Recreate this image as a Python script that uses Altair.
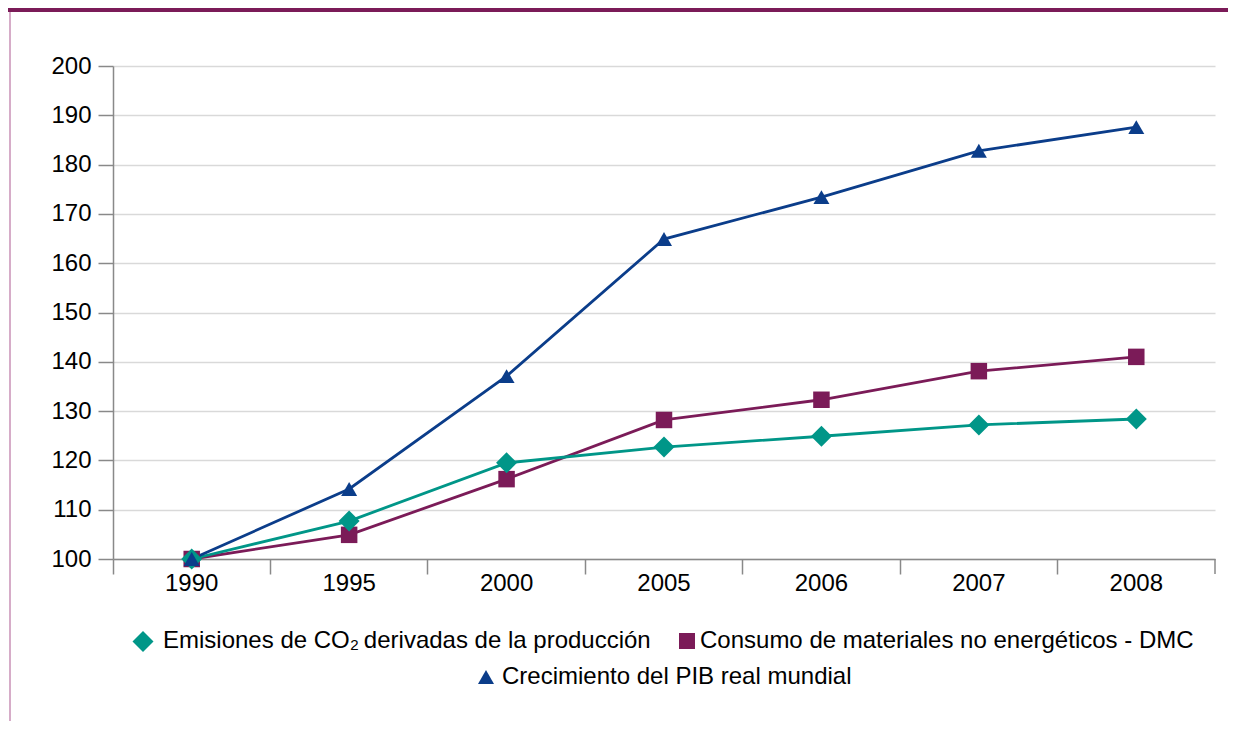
import altair as alt
import pandas as pd

years = ["1990", "1995", "2000", "2005", "2006", "2007", "2008"]
co2 = [100, 107.7, 119.5, 122.7, 124.9, 127.2, 128.4]
dmc = [100, 104.9, 116.2, 128.2, 132.3, 138.1, 141.0]
pib = [100, 114.2, 137.1, 164.9, 173.4, 182.8, 187.6]

names = [
    "Emisiones de CO₂\u2009derivadas de la producción",
    "Consumo de materiales no energéticos - DMC",
    "Crecimiento del PIB real mundial",
]
colors = ["#009688", "#7b1b58", "#0b3d8a"]
shapes = ["diamond", "square", "triangle-up"]
sizes = [441, 272, 256]

W, H = 1102, 493
FONT = "Liberation Sans"
FS = 24
GREY = "#898989"

rows = []
for name, vals in zip(names, [co2, dmc, pib]):
    for y, v in zip(years, vals):
        rows.append({"year": y, "value": v, "serie": name})
df = pd.DataFrame(rows)

xenc = alt.X(
    "year:N",
    sort=years,
    title=None,
    scale=alt.Scale(type="band", paddingInner=0, paddingOuter=0),
    axis=alt.Axis(
        bandPosition=0,
        labelAngle=0,
        labelFontSize=FS,
        labelFont=FONT,
        labelColor="#000000",
        labelPadding=-3,
        tickSize=15,
        tickColor=GREY,
        tickWidth=1.5,
        domainColor=GREY,
        domainWidth=1.5,
        grid=False,
    ),
)
yenc = alt.Y(
    "value:Q",
    title=None,
    scale=alt.Scale(domain=[100, 200], nice=False, zero=False),
    axis=alt.Axis(
        values=list(range(100, 201, 10)),
        labelFontSize=FS,
        labelFont=FONT,
        labelColor="#000000",
        labelPadding=7,
        tickSize=15,
        tickColor=GREY,
        tickWidth=1.5,
        domainColor=GREY,
        domainWidth=1.5,
        grid=True,
        gridColor="#d9d9d9",
        gridWidth=1.5,
    ),
)

layers = []
order = [1, 0, 2]
for i in order:
    sub = alt.Chart(df).transform_filter(alt.datum.serie == names[i])
    layers.append(
        sub.mark_line(color=colors[i], strokeWidth=2.8).encode(x=xenc, y=yenc)
    )
for i in order:
    sub = alt.Chart(df).transform_filter(alt.datum.serie == names[i])
    layers.append(
        sub.mark_point(
            shape=shapes[i], size=sizes[i], filled=True, opacity=1, color=colors[i]
        ).encode(x=xenc, y=yenc)
    )

dummy = pd.DataFrame({"a": [0]})
# last tick at right end of x axis
layers.append(
    alt.Chart(dummy)
    .mark_rule(color=GREY, strokeWidth=1.5)
    .encode(x=alt.value(W), y=alt.value(H), y2=alt.value(H + 15))
)
# top band
layers.append(
    alt.Chart(dummy)
    .mark_rect(color="#7b1b58")
    .encode(x=alt.value(-105), x2=alt.value(1115), y=alt.value(-58), y2=alt.value(-54))
)
# left frame line
layers.append(
    alt.Chart(dummy)
    .mark_rule(color="#c991b6", strokeWidth=1.5)
    .encode(x=alt.value(-103), y=alt.value(-54), y2=alt.value(655))
)

# legend
leg_sym = [(30, 575.5), (574, 575), (373, 611)]
leg_txt = [(50, 582), (587, 582), (389, 618)]
leg_sym_size = [441, 256, 256]
for i in range(3):
    layers.append(
        alt.Chart(dummy)
        .mark_point(shape=shapes[i], size=leg_sym_size[i], filled=True, opacity=1, color=colors[i])
        .encode(x=alt.value(leg_sym[i][0]), y=alt.value(leg_sym[i][1]))
    )
    layers.append(
        alt.Chart(dummy)
        .mark_text(align="left", baseline="alphabetic", fontSize=FS, font=FONT, color="#000000", text=names[i])
        .encode(x=alt.value(leg_txt[i][0]), y=alt.value(leg_txt[i][1]))
    )

chart = (
    alt.layer(*layers)
    .properties(
        width=W,
        height=H,
        autosize=alt.AutoSizeParams(type="none"),
        padding={"left": 105, "top": 58, "right": 13, "bottom": 162},
        background="white",
    )
    .configure_view(stroke=None)
)

chart.save("out.html", embed_options={"renderer": "svg", "actions": False})
